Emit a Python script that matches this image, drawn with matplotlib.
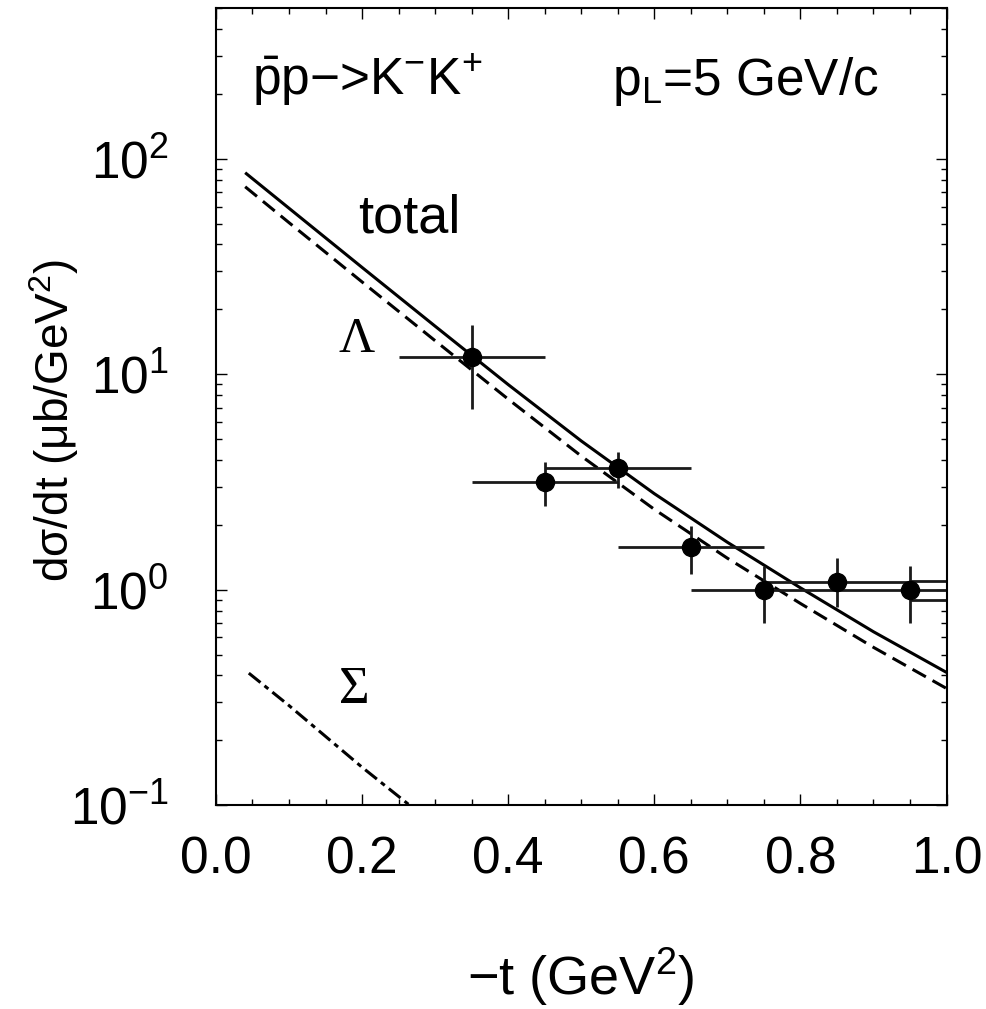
import numpy as np
import matplotlib
matplotlib.use("Agg")
import matplotlib.pyplot as plt
from matplotlib.ticker import MultipleLocator, LogLocator, NullFormatter, FormatStrFormatter

# ---------------- data ----------------
# measured points: -t, dsigma/dt and the error bar ends (ub/GeV^2)
t_data = [0.35, 0.45, 0.55, 0.65, 0.75, 0.85, 0.95, 1.05, 1.05]
ds_data = [12.0, 3.17, 3.66, 1.58, 1.0, 1.09, 1.0, 1.1, 0.9]
ds_lo = [6.9, 2.45, 2.97, 1.18, 0.70, 0.83, 0.70, 0.9, 0.75]
ds_hi = [16.9, 3.9, 4.35, 1.98, 1.29, 1.41, 1.29, 1.3, 1.05]
t_halfwidth = 0.1

# model curves
t_curve = [0.04, 0.1, 0.2, 0.3, 0.4, 0.5, 0.6, 0.7, 0.8, 0.9, 1.0]
total = [86.1, 58.9, 31.3, 16.7, 8.95, 4.90, 2.79, 1.66, 1.02, 0.638, 0.413]
lam = [74.1, 50.5, 26.8, 14.3, 7.66, 4.17, 2.36, 1.40, 0.863, 0.540, 0.348]
t_sig = [0.045, 0.1, 0.2, 0.265]
sig = [0.41, 0.29, 0.15, 0.1]

# ---------------- plot ----------------
plt.rcParams['font.family'] = ['Liberation Sans', 'DejaVu Sans']
plt.rcParams['mathtext.fontset'] = 'custom'
plt.rcParams['mathtext.rm'] = 'Liberation Sans'
plt.rcParams['mathtext.it'] = 'Liberation Sans'
plt.rcParams['mathtext.bf'] = 'Liberation Sans'

fig = plt.figure(figsize=(9.86, 10.09), dpi=100)
ax = fig.add_axes([0.219, 0.202, 0.741, 0.790])

lw = 2.2
ax.plot(t_curve, total, color='black', lw=lw, solid_capstyle='butt')
ax.plot(t_curve, lam, color='black', lw=lw, dashes=[5.0, 2.5])
ax.plot(t_sig, sig, color='black', lw=lw, dashes=[4.9, 1.7, 1.6, 1.7])

ds = np.array(ds_data)
yerr = [ds - np.array(ds_lo), np.array(ds_hi) - ds]
ax.errorbar(t_data, ds, xerr=t_halfwidth, yerr=yerr, fmt='o', color='black',
            ecolor='#1a1a1a', elinewidth=2.0, capsize=0, markersize=13)

ax.set_yscale('log')
ax.set_xlim(0.0, 1.0)
ax.set_ylim(0.1, 500)

ax.xaxis.set_major_locator(MultipleLocator(0.2))
ax.xaxis.set_minor_locator(MultipleLocator(0.05))
ax.xaxis.set_major_formatter(FormatStrFormatter('%.1f'))
ax.yaxis.set_major_locator(LogLocator(base=10, numticks=10))
ax.yaxis.set_minor_locator(LogLocator(base=10, subs=np.arange(2, 10), numticks=20))
ax.yaxis.set_minor_formatter(NullFormatter())

ax.tick_params(which='both', direction='in', top=True, right=True, width=1.0)
ax.tick_params(which='major', length=8)
ax.tick_params(which='minor', length=4)
ax.tick_params(axis='x', which='major', labelsize=37, pad=22)
ax.tick_params(axis='y', which='major', labelsize=37, pad=34)
for s in ax.spines.values():
    s.set_linewidth(1.5)

ax.set_xlabel('\u2212t (GeV$^2$)', fontsize=39, labelpad=44)
ax.set_ylabel('d\u03c3/dt (\u03bcb/GeV$^2$)', fontsize=33, labelpad=-8, y=0.483)

ax.text(0.049, 0.891, '$\\bar{\\mathrm{p}}$p\u2212>K$^{-}$K$^{+}$', transform=ax.transAxes,
        fontsize=37, va='baseline', ha='left')
ax.text(0.542, 0.891, 'p$_\\mathrm{L}$=5 GeV/c', transform=ax.transAxes,
        fontsize=37, va='baseline', ha='left')
ax.text(0.194, 0.718, 'total', transform=ax.transAxes,
        fontsize=39, va='baseline', ha='left')
ax.text(0.168, 0.568, '\u039b', transform=ax.transAxes, family='Liberation Serif',
        fontsize=36, va='baseline', ha='left')
ax.text(0.168, 0.128, '\u03a3', transform=ax.transAxes, family='Liberation Serif',
        fontsize=38, va='baseline', ha='left')

fig.savefig('out.png', dpi=100)
